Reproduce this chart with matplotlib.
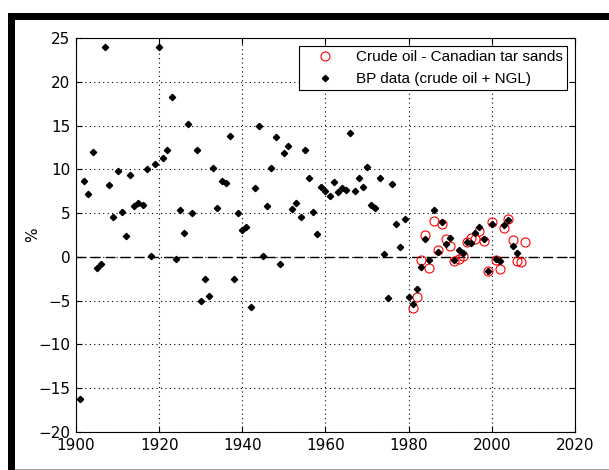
import matplotlib.pyplot as plt
from matplotlib.patches import Rectangle

# BP data (crude oil + NGL), annual change in %
bp_years = list(range(1901, 2007))
bp_values = [
    -16.2, 8.7, 7.2, 12.0, -1.3, -0.8, 24.0, 8.2, 4.6, 9.8,
    5.1, 2.4, 9.3, 5.8, 6.1, 5.9, 10.0, 0.1, 10.6, 24.0,
    11.3, 12.2, 18.3, -0.2, 5.4, 2.7, 15.2, 5.0, 12.2, -5.0,
    -2.5, -4.5, 10.1, 5.6, 8.7, 8.4, 13.8, -2.5, 5.0, 3.1,
    3.4, -5.7, 7.9, 15.0, 0.1, 5.8, 10.1, 13.7, -0.8, 11.9,
    12.7, 5.5, 6.2, 4.6, 12.2, 9.0, 5.1, 2.6, 8.0, 7.5,
    7.0, 8.5, 7.4, 7.9, 7.6, 14.1, 7.5, 9.0, 8.0, 10.3,
    5.9, 5.6, 9.0, 0.3, -4.7, 8.3, 3.8, 1.1, 4.3, -4.6,
    -5.4, -3.7, -1.2, 2.0, -0.3, 5.3, 0.6, 4.0, 1.5, 2.2,
    -0.3, 0.8, 0.4, 1.7, 1.6, 2.7, 3.4, 2.0, -1.6, 3.7,
    -0.2, -0.5, 3.6, 4.2, 1.3, 0.5,
]

# Crude oil - Canadian tar sands
tar_years = list(range(1981, 2009))
tar_values = [
    -5.8, -4.6, -0.4, 2.5, -1.3, 4.1, 0.8, 3.7, 2.0, 1.3,
    -0.5, -0.2, 0.1, 1.7, 2.2, 2.1, 2.9, 1.8, -1.6, 4.0,
    -0.4, -1.4, 3.3, 4.3, 1.9, -0.5, -0.6, 1.7,
]

x_ticks = [1900, 1920, 1940, 1960, 1980, 2000, 2020]
y_ticks = [-20, -15, -10, -5, 0, 5, 10, 15, 20, 25]

W, H = 609, 470
fig = plt.figure(figsize=(W / 100, H / 100), dpi=100)
fig.patch.set_facecolor('white')

# black frame on top and left, grey line at the bottom
fig.patches.append(Rectangle((8 / W, 0), 7 / W, (H - 13) / H, transform=fig.transFigure,
                             facecolor='black', edgecolor='none'))
fig.patches.append(Rectangle((8 / W, (H - 20) / H), (W - 8) / W, 7 / H, transform=fig.transFigure,
                             facecolor='black', edgecolor='none'))
fig.patches.append(Rectangle((15 / W, 0), (W - 15) / W, 1.5 / H, transform=fig.transFigure,
                             facecolor='#a0a0a0', edgecolor='none'))

ax = fig.add_axes([76 / W, 38 / H, 499 / W, 394 / H])

ax.plot(tar_years, tar_values, linestyle='none', marker='o', markersize=6.5,
        markerfacecolor='none', markeredgecolor='red', markeredgewidth=0.8,
        label='Crude oil - Canadian tar sands', zorder=3)
ax.plot(bp_years, bp_values, linestyle='none', marker='D', markersize=3.2,
        color='black', label='BP data (crude oil + NGL)', zorder=4)

ax.axhline(0, color='black', linewidth=1.0, dashes=(7, 3.5), zorder=2)

ax.set_xlim(1900, 2020)
ax.set_ylim(-20, 25)
ax.set_xticks(x_ticks)
ax.set_yticks(y_ticks)
ax.grid(True, color='black', linestyle=(0, (1, 3)), linewidth=0.8)
ax.tick_params(direction='in', length=4, width=0.8, top=True, right=True,
               labelsize=11, pad=4)
for s in ax.spines.values():
    s.set_linewidth(0.8)
ax.set_ylabel('%', fontsize=11)
ax.yaxis.set_label_coords(-0.072, 0.5)

leg = ax.legend(loc='upper right', frameon=True, fancybox=False,
                prop={'family': 'Liberation Sans', 'size': 11},
                edgecolor='black', framealpha=1, borderpad=0.3,
                handletextpad=0.6, handlelength=2.8, borderaxespad=0.5)
leg.get_frame().set_linewidth(0.8)

fig.savefig('out.png', dpi=100)
